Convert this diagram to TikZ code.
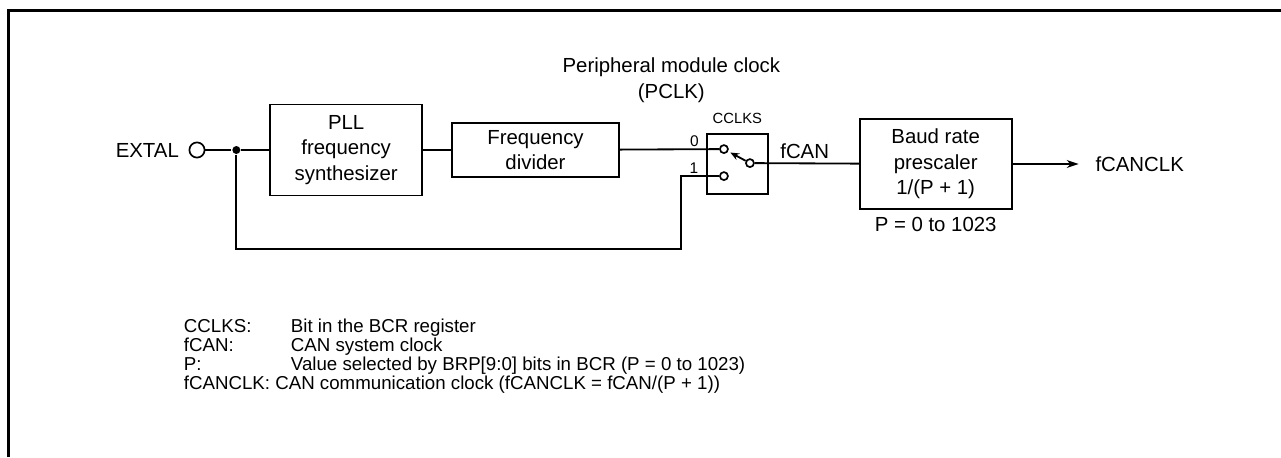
\documentclass[tikz,border=0pt]{standalone}
\usepackage{fontspec}
\setmainfont{Liberation Sans}
\usetikzlibrary{positioning,calc,arrows.meta}
\tikzset{>={Stealth[length=3mm,width=2mm]}}

\begin{document}
\begin{tikzpicture}[
    line width=1.3pt,
    font=\fontsize{14.5}{18}\selectfont,
    block/.style={draw, align=center, inner sep=0pt, minimum width=3.8cm, minimum height=2.275cm},
    pin/.style={circle, draw, fill=white, line width=1.2pt, inner sep=0pt, minimum size=0.2cm},
    tag/.style={inner sep=0pt},
    bit/.style={inner sep=0pt, font=\fontsize{11}{13}\selectfont}
]
\useasboundingbox (0,0) rectangle (32.025,-11.425);
\draw[line width=2.1pt] (0.2125,-11.425) |- (32.025,-0.2625);

\node[pin, minimum size=0.38cm] (extal) at (4.925,-3.75) {};
\node[tag, left=0.22cm of extal] (extaltxt) {EXTAL};
\node[circle, fill, inner sep=0pt, minimum size=0.2cm, right=0.65cm of extal] (dot) {};
\node[block, right=0.7cm of dot] (pll) {PLL\\frequency\\synthesizer};
\node[block, minimum width=4.175cm, minimum height=1.35cm, right=0.7cm of pll] (fdiv) {Frequency\\divider};

% clock select switch
\node[draw, minimum width=1.525cm, minimum height=1.5cm, right=2.15cm of fdiv, yshift=-0.35cm] (sw) {};
\node[pin] (c0) at ($(sw.north west)+(0.45,-0.4)$) {};
\node[pin] (c1) at ($(sw.north west)+(0.45,-1.075)$) {};
\node[pin] (cout) at ($(sw.north west)+(1.1,-0.75)$) {};
\node[tag, font=\fontsize{10.5}{12}\selectfont, above=0.22cm of sw] (cclks) {CCLKS};
\node[tag, align=center, above=0.22cm of cclks, xshift=-1.65cm] (pclk) {Peripheral module clock\\(PCLK)};

\node[block, minimum height=2.25cm, right=2.25cm of sw] (baud) {Baud rate\\prescaler\\1/(P + 1)};
\node[tag, below=0.15cm of baud] (prange) {P = 0 to 1023};
\node[tag, right=2.05cm of baud] (fcanclk) {fCANCLK};

\coordinate (fb) at ($(sw.west |- dot)+(-0.625,-2.475)$);

\draw (extal) -- (dot) -- (pll);
\draw (pll) -- (fdiv);
\draw (fdiv) -- node[bit, pos=0.75, above=1.5pt] (zero) {0} (c0);
\draw (dot) |- (fb) |- node[bit, pos=0.67, above=1.5pt] (one) {1} (c1);
\draw[-{Stealth[length=2.2mm,width=1.8mm]}, shorten >=0.06cm] (cout) -- (c0);
\draw (cout) -- node[tag, pos=0.48, above=2.5pt] (fcan) {fCAN} (baud);
\draw[->, shorten >=0.4cm] (baud) -- (fcanclk);

% legend
\node[tag, anchor=base west, font=\fontsize{13.3}{13.3}\selectfont] (legend) at (4.575,-8.3) {%
\begin{tabular}[t]{@{}p{2.675cm}@{}l@{}}
CCLKS: & Bit in the BCR register\\
fCAN: & CAN system clock\\
P: & Value selected by BRP[9:0] bits in BCR (P = 0 to 1023)\\
\multicolumn{2}{@{}l@{}}{fCANCLK: CAN communication clock (fCANCLK = fCAN/(P + 1))}
\end{tabular}};
\end{tikzpicture}
\end{document}
